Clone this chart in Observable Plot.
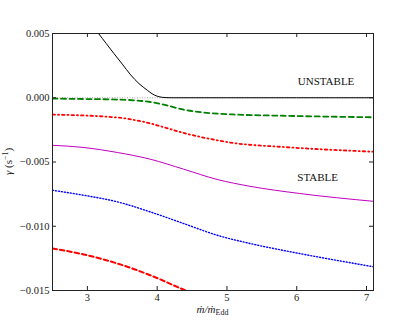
<!DOCTYPE html>
<html>
<head>
<meta charset="utf-8">
<script src="https://cdn.jsdelivr.net/npm/d3@7"></script>
<script src="https://cdn.jsdelivr.net/npm/@observablehq/plot@0.6"></script>
<style>
  html, body { margin: 0; padding: 0; background: #fff; }
  #chart svg { display: block; }
</style>
</head>
<body>
<div id="chart"></div>
<script>
// Tick values
const xTicks = [3, 4, 5, 6, 7];
const yTicks = [0.005, 0.000, -0.005, -0.010, -0.015];

// Series
const blackX = [3.16, 3.27, 3.38, 3.5, 3.62, 3.74, 3.86, 3.93, 4.0, 4.08, 4.2, 5.0, 6.0, 7.1];
const blackY = [0.005, 0.00422, 0.00344, 0.00262, 0.00178, 0.0011, 0.00058, 0.0003, 0.00012, 0.00003, 0, 0, 0, 0];

const greenX = [2.5, 2.95, 3.43, 3.9, 4.14, 4.38, 4.62, 5.09, 5.8, 7.1];
const greenY = [-0.00006, -0.0001, -0.00014, -0.00033, -0.0006, -0.00093, -0.00112, -0.0013, -0.0014, -0.00152];

const redDotX = [2.5, 3.43, 3.81, 4.05, 4.38, 4.62, 5.09, 5.8, 7.1];
const redDotY = [-0.00131, -0.00154, -0.00188, -0.00222, -0.00274, -0.00305, -0.00352, -0.00383, -0.0042];

const magX = [2.5, 2.95, 3.43, 3.9, 4.38, 4.86, 5.33, 6.04, 7.1];
const magY = [-0.0037, -0.00387, -0.00426, -0.00478, -0.00556, -0.00636, -0.00689, -0.00745, -0.00806];

const blueX = [2.5, 2.95, 3.43, 3.9, 4.38, 4.86, 5.33, 6.04, 7.1];
const blueY = [-0.0072, -0.00759, -0.0081, -0.00888, -0.00979, -0.0107, -0.01134, -0.01212, -0.01315];

const redDashX = [2.5, 2.95, 3.43, 3.9, 4.4, 4.5];
const redDashY = [-0.01173, -0.0122, -0.0129, -0.01381, -0.01498, -0.0152];

// Annotations
const annText = ["UNSTABLE", "STABLE"];
const annX = [6.42, 6.30];
const annY = [0.00128, -0.00621];

const rows = (xs, ys) => xs.map((x, i) => ({x, y: ys[i]}));
const ann = annText.map((t, i) => ({t, x: annX[i], y: annY[i]}));

const W = 415, H = 323, ML = 52, MR = 42, MT = 33, MB = 33;
const fw = W - ML - MR, fh = H - MT - MB, tk = 4;
const serif = "'Liberation Serif', 'DejaVu Serif', serif";

const plot = Plot.plot({
  width: W, height: H,
  marginLeft: ML, marginRight: MR, marginTop: MT, marginBottom: MB,
  style: {fontFamily: serif, fontSize: "10.5px", color: "#222", background: "#fff"},
  x: {domain: [2.5, 7.1]},
  y: {domain: [-0.015, 0.005]},
  marks: [
    Plot.ruleY([0], {stroke: "#aaa", strokeWidth: 1, strokeDasharray: "1,1.5"}),
    Plot.line(rows(blackX, blackY), {x: "x", y: "y", stroke: "#000", strokeWidth: 1, curve: "monotone-x", clip: true}),
    Plot.line(rows(greenX, greenY), {x: "x", y: "y", stroke: "#008000", strokeWidth: 1.8, strokeDasharray: "5,3.5", curve: "monotone-x", clip: true}),
    Plot.line(rows(redDotX, redDotY), {x: "x", y: "y", stroke: "#ff0000", strokeWidth: 1.8, strokeDasharray: "2.5,3,1,3", curve: "monotone-x", clip: true}),
    Plot.line(rows(magX, magY), {x: "x", y: "y", stroke: "#bf00bf", strokeWidth: 1, curve: "monotone-x", clip: true}),
    Plot.line(rows(blueX, blueY), {x: "x", y: "y", stroke: "#0000ff", strokeWidth: 1.4, strokeDasharray: "1,2", curve: "monotone-x", clip: true}),
    Plot.line(rows(redDashX, redDashY), {x: "x", y: "y", stroke: "#ff0000", strokeWidth: 2, strokeDasharray: "4.5,3", curve: "monotone-x", clip: true}),
    Plot.text(ann, {x: "x", y: "y", text: "t", fontSize: 11, fill: "#111", fontFamily: serif}),
    Plot.frame({stroke: "#222", strokeWidth: 1}),
    Plot.tickX(xTicks, {x: d => d, insetTop: fh - tk, stroke: "#222"}),
    Plot.tickX(xTicks, {x: d => d, insetBottom: fh - tk, stroke: "#222"}),
    Plot.tickY(yTicks, {y: d => d, insetRight: fw - tk, stroke: "#222"}),
    Plot.tickY(yTicks, {y: d => d, insetLeft: fw - tk, stroke: "#222"}),
    Plot.axisX(xTicks, {tickSize: 0, tickPadding: 3, label: null, fill: "#222", fontFamily: serif}),
    Plot.axisY(yTicks, {tickSize: 0, tickPadding: 3, label: null, tickFormat: d3.format(".3f"), fill: "#222", fontFamily: serif})
  ]
});

const svg = d3.select(plot);
// x label: m-dot / m-dot_Edd
const xl = svg.append("text")
  .attr("x", ML + fw / 2).attr("y", 313)
  .attr("text-anchor", "middle")
  .attr("font-family", serif).attr("font-size", 11).attr("fill", "#222");
xl.append("tspan").attr("font-style", "italic").text("ṁ/ṁ");
xl.append("tspan").attr("font-size", 8).attr("dy", 2).text("Edd");

// y label: gamma (s^-1)
const yl = svg.append("text")
  .attr("transform", `translate(12,${MT + fh / 2}) rotate(-90)`)
  .attr("text-anchor", "middle")
  .attr("font-family", serif).attr("font-size", 11).attr("fill", "#222");
yl.append("tspan").attr("font-style", "italic").text("γ");
yl.append("tspan").text(" (s");
yl.append("tspan").attr("font-size", 8).attr("dy", -4).text("−1");
yl.append("tspan").attr("dy", 4).text(")");

document.getElementById("chart").appendChild(plot);
</script>
</body>
</html>
